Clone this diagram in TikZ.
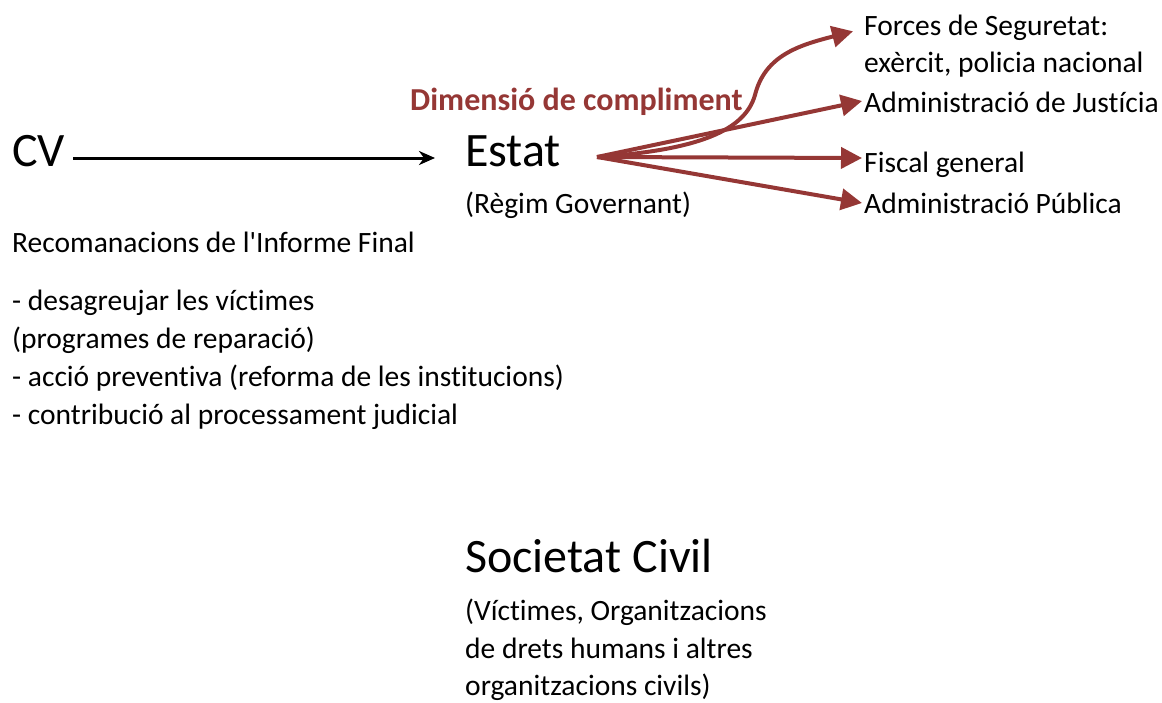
\documentclass[tikz,border=0pt]{standalone}
\usepackage{fontspec}
\setmainfont{Carlito}[Ligatures={NoCommon,TeXOff}]
\usetikzlibrary{arrows.meta}
\definecolor{dred}{HTML}{953735}
\tikzset{
  big/.style={font=\fontsize{48}{52}\selectfont, inner sep=0pt, anchor=base west},
  txt/.style={font=\fontsize{29.5}{36}\selectfont, inner sep=0pt, anchor=base west},
  redarrow/.style={draw=dred, line width=4pt, -{Triangle[length=21pt,width=21pt]}},
  blackarrow/.style={draw=black, line width=3pt, -{Stealth[length=16pt,width=14pt,inset=5pt]}}
}
\begin{document}
\begin{tikzpicture}[x=1pt,y=-1pt]
\useasboundingbox (0,0) rectangle (1162,702);
% left
\node[big] (cv) at (12,166) {CV};
\node[big] (estat) at (465,166) {Estat};
\node[txt] (regim) at (465,213) {(Règim Governant)};
\node[txt, font=\fontsize{32}{36}\selectfont\bfseries, text=dred] (dim) at (410,110) {Dimensió de compliment};
\node[txt] (rec) at (12,252) {Recomanacions de l'Informe Final};
\node[txt] (l1) at (12,310) {- desagreujar les víctimes};
\node[txt] (l2) at (12,348) {(programes de reparació)};
\node[txt] (l3) at (12,386) {- acció preventiva (reforma de les institucions)};
\node[txt] (l4) at (12,424) {- contribució al processament judicial};
\node[big] (soc) at (465,572) {Societat Civil};
\node[txt] (s1) at (465,620) {(Víctimes, Organitzacions};
\node[txt] (s2) at (465,658) {de drets humans i altres};
\node[txt] (s3) at (465,695) {organitzacions civils)};
% right
\node[txt] (forces) at (864,35) {Forces de Seguretat:};
\node[txt] (exer) at (864,72) {exèrcit, policia nacional};
\node[txt] (jus) at (864,112) {Administració de Justícia};
\node[txt] (fis) at (864,172) {Fiscal general};
\node[txt] (pub) at (864,213) {Administració Pública};
% arrows
\coordinate (src) at (597,157);
\coordinate (bend) at (755,95);
\draw[blackarrow] (cv.east |- 0,158) ++(8,0) -- ([xshift=-30pt]estat.west |- 0,158);
\draw[redarrow] (src) .. controls (700,150) and (745,130) .. (bend)
  .. controls (765,55) and (800,45) .. ([xshift=-11pt,yshift=-4pt]forces.west);
\draw[redarrow] (src) -- ([xshift=-2pt]jus.west |- 0,101);
\draw[redarrow] (src) -- ([xshift=-2pt]fis.west |- 0,158);
\draw[redarrow] (src) -- ([xshift=-2pt]pub.west |- 0,203);
\end{tikzpicture}
\end{document}
